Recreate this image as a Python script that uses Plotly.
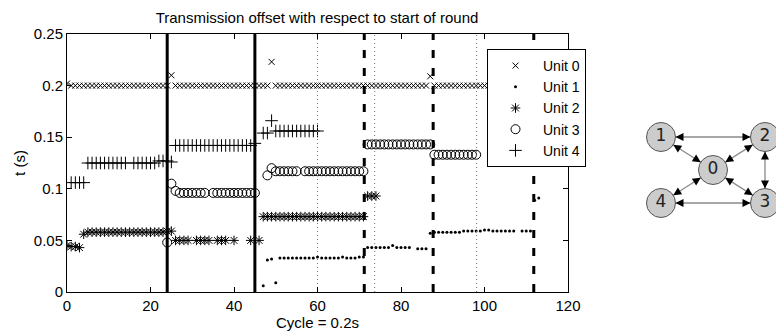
import plotly.graph_objects as go

# ---------------- data ----------------
unit0_x = [0, 1, 2, 3, 4, 5, 6, 7, 8, 9, 10, 11, 12, 13, 14, 15, 16, 17, 18, 19,
           20, 21, 22, 23, 24, 25, 26, 27, 28, 29, 30, 31, 32, 33, 34, 35, 36, 37, 38, 39,
           40, 41, 42, 43, 44, 45, 46, 47, 48, 49, 50, 51, 52, 53, 54, 55, 56, 57, 58, 59,
           60, 61, 62, 63, 64, 65, 66, 67, 68, 69, 70, 71, 72, 73, 74, 75, 76, 77, 78, 79,
           80, 81, 82, 83, 84, 85, 86, 87, 88, 89, 90, 91, 92, 93, 94, 95, 96, 97, 98, 99,
           100, 101, 102, 103, 104, 105, 106, 107, 108, 109, 110, 111, 112]
unit0_y = [0.202, 0.2, 0.2, 0.2, 0.2, 0.2, 0.2, 0.2, 0.2, 0.2, 0.2, 0.2, 0.2, 0.2, 0.2, 0.2, 0.2, 0.2, 0.2, 0.2,
           0.2, 0.2, 0.2, 0.2, 0.2, 0.210, 0.2, 0.2, 0.2, 0.2, 0.2, 0.2, 0.2, 0.2, 0.2, 0.2, 0.2, 0.2, 0.2, 0.2,
           0.2, 0.2, 0.2, 0.2, 0.2, 0.2, 0.2, 0.2, 0.2, 0.223, 0.2, 0.2, 0.2, 0.2, 0.2, 0.2, 0.2, 0.2, 0.2, 0.2,
           0.2, 0.2, 0.2, 0.2, 0.2, 0.2, 0.2, 0.2, 0.2, 0.2, 0.2, 0.2, 0.2, 0.2, 0.2, 0.2, 0.2, 0.2, 0.2, 0.2,
           0.2, 0.2, 0.2, 0.2, 0.2, 0.2, 0.2, 0.209, 0.2, 0.2, 0.2, 0.2, 0.2, 0.2, 0.2, 0.2, 0.2, 0.2, 0.2, 0.2,
           0.2, 0.2, 0.2, 0.2, 0.2, 0.2, 0.2, 0.2, 0.2, 0.2, 0.2, 0.2, 0.2]

unit1_x = [47, 48, 49, 50,
           51, 52, 53, 54, 55, 56, 57, 58, 59, 60, 61, 62, 63, 64, 65, 66, 67, 68, 69, 70, 71,
           72, 73, 74, 75, 76, 77, 78, 79, 80, 81, 82, 84, 85, 86,
           87, 88, 89, 90, 91, 92, 93, 94, 95, 96, 97, 98, 99, 100, 101, 102, 103, 104, 105, 106, 107,
           109, 110, 111, 112, 113]
unit1_y = [0.006, 0.031, 0.032, 0.009,
           0.033, 0.033, 0.033, 0.033, 0.033, 0.033, 0.033, 0.033, 0.033, 0.034, 0.033, 0.033, 0.033,
           0.033, 0.033, 0.034, 0.033, 0.033, 0.033, 0.034, 0.034,
           0.043, 0.043, 0.043, 0.043, 0.043, 0.043, 0.045, 0.043, 0.043, 0.043, 0.043, 0.042, 0.042, 0.042,
           0.057, 0.058, 0.058, 0.058, 0.058, 0.058, 0.058, 0.058, 0.059, 0.059, 0.059, 0.059, 0.059,
           0.060, 0.060, 0.059, 0.059, 0.059, 0.059, 0.059, 0.059,
           0.059, 0.059, 0.059, 0.089, 0.091]

unit2_x = [0, 1, 2, 3,
           4, 5, 6, 7, 8, 9, 10, 11, 12, 13, 14, 15, 16, 17, 18, 19, 20, 21, 22, 23, 24, 25,
           26, 27, 28, 29, 31, 32, 33, 34, 36, 37, 38, 40, 44, 46,
           47, 48, 49, 50, 51, 52, 53, 54, 55, 56, 57, 58, 59, 60, 61, 62, 63, 64, 65, 66, 67, 68, 69, 70, 71,
           72, 73, 74]
unit2_y = [0.045, 0.044, 0.044, 0.043,
           0.056, 0.058, 0.058, 0.058, 0.058, 0.058, 0.058, 0.058, 0.058, 0.058, 0.058, 0.058, 0.058,
           0.058, 0.058, 0.058, 0.058, 0.058, 0.058, 0.058, 0.059, 0.059,
           0.050, 0.050, 0.050, 0.050, 0.050, 0.050, 0.050, 0.050, 0.050, 0.050, 0.050, 0.050, 0.050, 0.050,
           0.073, 0.073, 0.073, 0.073, 0.073, 0.073, 0.073, 0.073, 0.073, 0.073, 0.073, 0.073, 0.073,
           0.073, 0.073, 0.073, 0.073, 0.073, 0.073, 0.073, 0.073, 0.073, 0.073, 0.073, 0.073,
           0.093, 0.093, 0.093]

unit3_x = [24, 25,
           26, 27, 28, 29, 30, 31, 32, 33, 35, 36, 37, 38, 39, 40, 41, 42, 43, 44, 45,
           48, 49,
           50, 51, 52, 53, 54, 55, 57, 58, 59, 60, 61, 62, 63, 64, 65, 66, 67, 68, 69, 70, 71,
           72, 73, 74, 75, 76, 77, 78, 79, 80, 81, 82, 83, 84, 85, 86, 87,
           88, 89, 90, 91, 92, 93, 94, 95, 96, 97, 98]
unit3_y = [0.048, 0.105,
           0.098, 0.096, 0.096, 0.096, 0.096, 0.096, 0.096, 0.096, 0.096, 0.096, 0.096, 0.096, 0.096,
           0.096, 0.096, 0.096, 0.096, 0.096, 0.096,
           0.113, 0.120,
           0.117, 0.117, 0.117, 0.117, 0.117, 0.117, 0.117, 0.117, 0.117, 0.117, 0.117, 0.117, 0.117,
           0.117, 0.117, 0.117, 0.117, 0.117, 0.117, 0.117, 0.117,
           0.143, 0.143, 0.143, 0.143, 0.143, 0.143, 0.143, 0.143, 0.143, 0.143, 0.143, 0.143, 0.143,
           0.143, 0.143, 0.143,
           0.133, 0.133, 0.133, 0.133, 0.133, 0.133, 0.133, 0.133, 0.133, 0.133, 0.133]

unit4_x = [1, 2, 3, 4,
           5, 6, 7, 8, 9, 10, 11, 12, 13, 14, 16, 17, 18, 19, 20, 21, 22, 23, 24, 25,
           26, 27, 28, 29, 30, 31, 32, 33, 34, 35, 36, 37, 38, 39, 40, 41, 42, 43, 44, 45,
           47, 48, 49,
           50, 51, 52, 53, 54, 55, 56, 57, 58, 59, 60]
unit4_y = [0.106, 0.106, 0.106, 0.106,
           0.125, 0.125, 0.125, 0.125, 0.125, 0.125, 0.125, 0.125, 0.125, 0.125, 0.125, 0.125,
           0.125, 0.125, 0.125, 0.125, 0.127, 0.127, 0.127, 0.126,
           0.142, 0.142, 0.142, 0.142, 0.142, 0.142, 0.142, 0.142, 0.142, 0.142, 0.142, 0.142,
           0.142, 0.142, 0.142, 0.142, 0.142, 0.142, 0.142, 0.144,
           0.154, 0.154, 0.166,
           0.156, 0.156, 0.156, 0.156, 0.156, 0.156, 0.156, 0.156, 0.156, 0.156, 0.156]

series_names = ["Unit 0", "Unit 1", "Unit 2", "Unit 3", "Unit 4"]

solid_lines_x = [24, 45]
dashed_lines_x = [71.2, 87.7, 111.8]
dotted_lines_x = [60, 73.7, 98.1]

x_ticks = [0, 20, 40, 60, 80, 100, 120]
y_ticks = [0, 0.05, 0.1, 0.15, 0.2, 0.25]
y_tick_labels = ["0", "0.05", "0.1", "0.15", "0.2", "0.25"]

# network diagram
node_ids = ["0", "1", "2", "3", "4"]
node_x = [1.0, 0.0, 2.0, 2.0, 0.0]
node_y = [0.5, 1.0, 1.0, 0.0, 0.0]
edges = [(1, 2), (1, 0), (2, 0), (0, 4), (0, 3), (4, 3), (2, 3)]

# ---------------- layout geometry ----------------
W, H = 776, 336
ML, MR, MT, MB = 67, 0, 34, 44
PW = W - ML - MR
PH = H - MT - MB
main_right_px = 568
inset_left_px = 630
PX_X, PX_Y = 52.0, 66.0
X0_PX, Y0_PX = 661.0, 203.0  # pixel position of inset (0, 0)

FONT = "Liberation Sans, Arial, Helvetica, sans-serif"

fig = go.Figure()

styles = [
    dict(symbol="x-thin", size=6, line=dict(width=1, color="black"), color="black"),
    dict(symbol="circle", size=3, color="black", line=dict(width=0)),
    dict(symbol="asterisk", size=8, line=dict(width=1, color="black"), color="black"),
    dict(symbol="circle-open", size=9, line=dict(width=1, color="black"), color="black"),
    dict(symbol="cross-thin", size=9, line=dict(width=1, color="black"), color="black"),
]
all_x = [unit0_x, unit1_x, unit2_x, unit3_x, unit4_x]
all_y = [unit0_y, unit1_y, unit2_y, unit3_y, unit4_y]
for name, xs, ys, st in zip(series_names, all_x, all_y, styles):
    fig.add_trace(go.Scatter(x=xs, y=ys, mode="markers", name=name, marker=st,
                             xaxis="x", yaxis="y"))


def vlines(xs):
    lx, ly = [], []
    for v in xs:
        lx += [v, v, None]
        ly += [0, 0.25, None]
    return lx, ly


lx, ly = vlines(dotted_lines_x)
fig.add_trace(go.Scatter(x=lx, y=ly, mode="lines", showlegend=False, hoverinfo="skip",
                         line=dict(color="#777777", width=1, dash="1px,3px")))
lx, ly = vlines(solid_lines_x)
fig.add_trace(go.Scatter(x=lx, y=ly, mode="lines", showlegend=False, hoverinfo="skip",
                         line=dict(color="black", width=3)))
lx, ly = vlines(dashed_lines_x)
fig.add_trace(go.Scatter(x=lx, y=ly, mode="lines", showlegend=False, hoverinfo="skip",
                         line=dict(color="black", width=3, dash="8px,10px")))

# ---- network inset ----
ex, ey = [], []
for a, b in edges:
    ex += [node_x[a], node_x[b], None]
    ey += [node_y[a], node_y[b], None]
fig.add_trace(go.Scatter(x=ex, y=ey, mode="lines", xaxis="x2", yaxis="y2", showlegend=False,
                         hoverinfo="skip", line=dict(color="#8a8a8a", width=1.3)))
fig.add_trace(go.Scatter(x=node_x, y=node_y, mode="markers+text", xaxis="x2", yaxis="y2",
                         text=node_ids, textposition="middle center", showlegend=False,
                         hoverinfo="skip", cliponaxis=False,
                         textfont=dict(family="DejaVu Sans", size=17, color="#222222"),
                         marker=dict(size=29, color="#cccccc", line=dict(color="#555555", width=1))))

R = 14.5
annotations = []
for a, b in edges:
    for head, tail in ((b, a), (a, b)):
        dxp = (node_x[tail] - node_x[head]) * PX_X
        dyp = -(node_y[tail] - node_y[head]) * PX_Y
        n = (dxp ** 2 + dyp ** 2) ** 0.5
        L = R + 7
        annotations.append(dict(x=node_x[head], y=node_y[head], xref="x2", yref="y2",
                                ax=dxp / n * L, ay=dyp / n * L, text="", showarrow=True,
                                arrowhead=2, arrowsize=1.6, arrowwidth=1, arrowcolor="black",
                                standoff=R))

x2_range = [(inset_left_px - X0_PX) / PX_X, (W - X0_PX) / PX_X]
y2_range = [-(MT + PH - Y0_PX) / PX_Y, (Y0_PX - MT) / PX_Y]

axis_common = dict(showline=True, linecolor="black", linewidth=1, mirror="ticks",
                   ticks="inside", ticklen=5, tickcolor="black", showgrid=False, zeroline=False,
                   automargin=False,
                   tickfont=dict(family=FONT, size=15, color="black"))

fig.update_layout(
    width=W, height=H, margin=dict(l=ML, r=MR, t=MT, b=MB, autoexpand=False),
    paper_bgcolor="white", plot_bgcolor="white",
    font=dict(family=FONT, size=15, color="black"),
    title=dict(text="Transmission offset with respect to start of round", x=(317 - ML) / PW,
               xref="paper", xanchor="center", y=1 - 18 / H, yanchor="middle",
               font=dict(family=FONT, size=15, color="black")),
    xaxis=dict(domain=[0, (main_right_px - ML) / PW], range=[0, 120], tickvals=x_ticks,
               title=dict(text="Cycle = 0.2s", standoff=3, font=dict(family=FONT, size=15)),
               **axis_common),
    yaxis=dict(domain=[0, 1], range=[0, 0.25], tickvals=y_ticks, ticktext=y_tick_labels,
               title=dict(text="t (s)", standoff=4, font=dict(family=FONT, size=15)),
               **axis_common),
    xaxis2=dict(domain=[(inset_left_px - ML) / PW, 1], range=x2_range, visible=False,
                anchor="y2", fixedrange=True),
    yaxis2=dict(domain=[0, 1], range=y2_range, visible=False, anchor="x2", fixedrange=True),
    legend=dict(x=(487 - ML) / PW, y=1 - (49 - MT) / PH, xanchor="left", yanchor="top",
                bgcolor="white", bordercolor="black", borderwidth=1, tracegroupgap=0,
                font=dict(family=FONT, size=14, color="black"), itemwidth=45),
    annotations=annotations,
    showlegend=True,
)

fig.write_html("out.html", config={"displayModeBar": False},
               post_script="document.body.style.margin='0';document.body.style.overflow='hidden';")
